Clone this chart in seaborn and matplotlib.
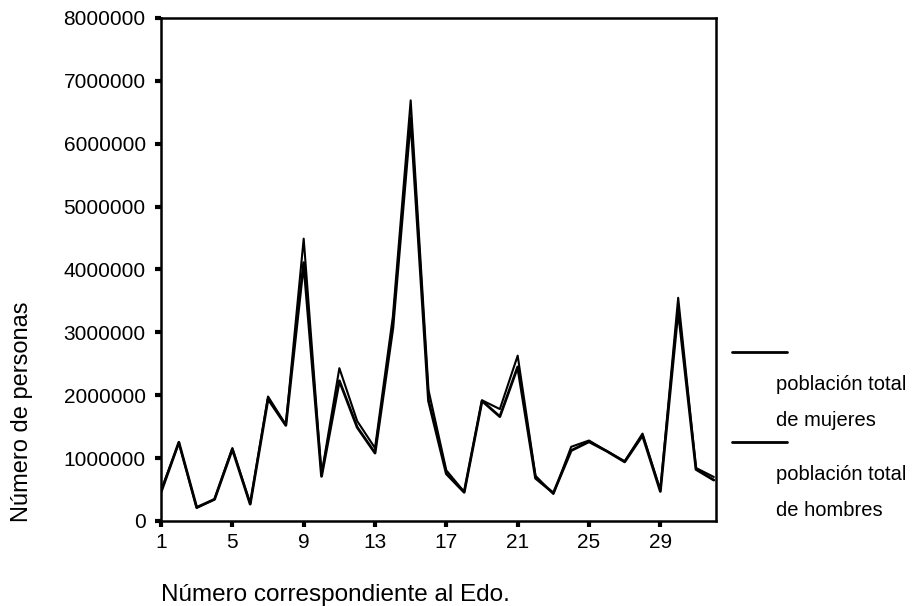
import matplotlib
matplotlib.use("Agg")
import matplotlib.pyplot as plt
from matplotlib.lines import Line2D
import seaborn as sns
import pandas as pd

# State number (alphabetical order) and population by sex
estado = list(range(1, 33))
mujeres = [487000, 1244000, 208000, 346000, 1160000, 275000, 1980000, 1530000,
           4490000, 740000, 2430000, 1590000, 1160000, 3250000, 6690000, 2080000,
           805000, 464000, 1920000, 1780000, 2630000, 719000, 430000, 1180000,
           1280000, 1110000, 950000, 1390000, 491000, 3550000, 843000, 700000]
hombres = [457000, 1252000, 216000, 344000, 1140000, 268000, 1940000, 1520000,
           4110000, 710000, 2230000, 1490000, 1080000, 3070000, 6410000, 1910000,
           750000, 456000, 1910000, 1660000, 2450000, 680000, 445000, 1120000,
           1260000, 1110000, 940000, 1360000, 470000, 3360000, 820000, 650000]
yticks = [0, 1000000, 2000000, 3000000, 4000000, 5000000, 6000000, 7000000, 8000000]
xticks = [1, 5, 9, 13, 17, 21, 25, 29]

df = pd.DataFrame({"estado": estado, "mujeres": mujeres, "hombres": hombres})

sns.set_theme(style="ticks")
plt.rcParams["font.family"] = ["Liberation Sans", "DejaVu Sans"]

fig = plt.figure(figsize=(9.17, 6.06), dpi=100)
ax = fig.add_axes([0.1756, 0.1403, 0.6048, 0.8300])

sns.lineplot(data=df, x="estado", y="mujeres", color="black", linewidth=1.5, ax=ax)
sns.lineplot(data=df, x="estado", y="hombres", color="black", linewidth=2.0, ax=ax)

ax.set_xlim(1, 32.1)
ax.set_ylim(0, 8000000)
ax.set_xticks(xticks)
ax.set_yticks(yticks)
ax.set_xticklabels([str(t) for t in xticks])
ax.set_yticklabels([str(t) for t in yticks])
ax.tick_params(axis="both", labelsize=15, length=4, width=3, color="black",
               labelcolor="black", direction="out")
ax.tick_params(axis="y", pad=7)
ax.tick_params(axis="x", pad=5)
for s in ax.spines.values():
    s.set_color("black")
    s.set_linewidth(1.8)
ax.set_xlabel("")
ax.set_ylabel("")

fig.text(0.024, 1 - 412 / 606, "Número de personas", rotation=90, ha="center",
         va="center", fontsize=17, color="black")
fig.text(161 / 917, 1 - 601 / 606, "Número correspondiente al Edo.", ha="left",
         va="baseline", fontsize=17.5, color="black")

# Legend: line sample above each two-line label
for ly, t1, t2 in [(352, "población total", "de mujeres"),
                   (442, "población total", "de hombres")]:
    yf = 1 - ly / 606
    fig.add_artist(Line2D([732 / 917, 787 / 917], [yf, yf], color="black",
                          linewidth=2, transform=fig.transFigure))
    fig.text(776 / 917, 1 - (ly + 33) / 606, t1, ha="left", va="center",
             fontsize=14.5, color="black")
    fig.text(776 / 917, 1 - (ly + 68) / 606, t2, ha="left", va="center",
             fontsize=14.5, color="black")

fig.savefig("out.png", dpi=100)
